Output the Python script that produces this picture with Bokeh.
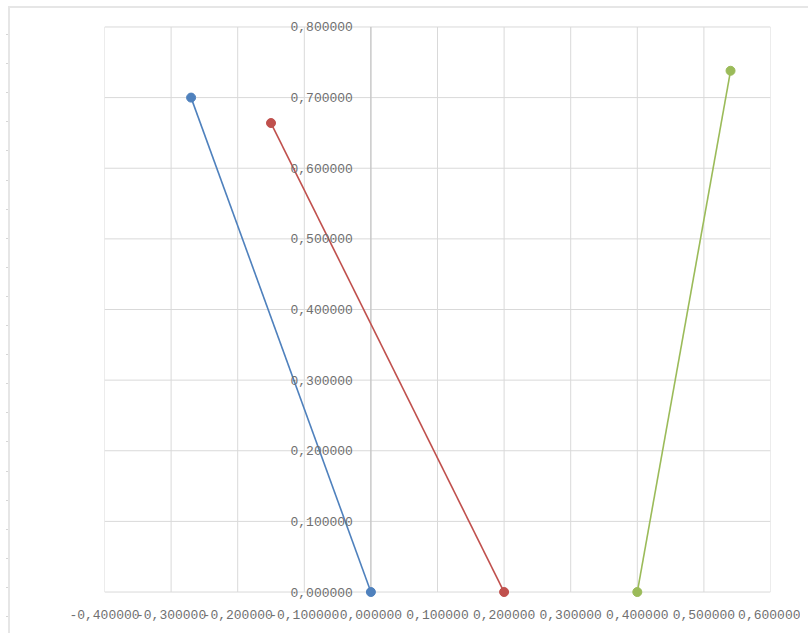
from bokeh.plotting import figure
from bokeh.models import FixedTicker, CustomJSTickFormatter, Range1d, InlineStyleSheet
from bokeh.embed import file_html
from bokeh.resources import INLINE

# Series data (x, y)
blue_x = [-0.27, 0.0]
blue_y = [0.70, 0.0]
red_x = [-0.15, 0.20]
red_y = [0.664, 0.0]
green_x = [0.40, 0.54]
green_y = [0.0, 0.738]

x_ticks = [-0.4, -0.3, -0.2, -0.1, 0.0, 0.1, 0.2, 0.3, 0.4, 0.5, 0.6]
y_ticks = [0.0, 0.1, 0.2, 0.3, 0.4, 0.5, 0.6, 0.7, 0.8]

colors = ["#4f81bd", "#c0504d", "#9bbb59"]
grid_color = "#d9d9d9"
label_color = "#707070"

x_min, x_max = x_ticks[0], x_ticks[-1]
y_min, y_max = y_ticks[0], y_ticks[-1]
pad = 0.012  # a little room so markers/labels at the edges are not clipped

p = figure(frame_width=666, frame_height=582, output_backend="svg", toolbar_location=None,
           x_range=Range1d(x_min, x_max), y_range=Range1d(y_min - pad, y_max + pad),
           min_border_left=104, min_border_right=30, min_border_top=18, min_border_bottom=28)

p.outline_line_color = None
p.xgrid.visible = False
p.ygrid.visible = False

fmt = CustomJSTickFormatter(code="return tick.toFixed(6).replace('.', ',');")

p.xaxis.ticker = FixedTicker(ticks=x_ticks)
p.yaxis.ticker = FixedTicker(ticks=y_ticks)
for ax in (p.xaxis[0], p.yaxis[0]):
    ax.formatter = fmt
    ax.axis_line_color = None
    ax.major_tick_line_color = None
    ax.minor_tick_line_color = None
    ax.major_tick_out = 0
    ax.major_tick_in = 0
    ax.minor_tick_out = 0
    ax.major_label_text_font = "Liberation Mono"
    ax.major_label_text_font_size = "13px"
    ax.major_label_text_color = label_color

p.xaxis.major_label_standoff = 9
p.yaxis.fixed_location = 0
p.yaxis.major_label_standoff = 18

# gridlines (plot area spans exactly the tick range)
p.segment(x0=x_ticks, y0=[y_min] * len(x_ticks), x1=x_ticks, y1=[y_max] * len(x_ticks),
          line_color=grid_color, line_width=1)
p.segment(x0=[x_min] * len(y_ticks), y0=y_ticks, x1=[x_max] * len(y_ticks), y1=y_ticks,
          line_color=grid_color, line_width=1)
# vertical value axis crossing at x = 0
p.segment(x0=[0], y0=[y_min], x1=[0], y1=[y_max], line_color="#bfbfbf", line_width=1)

for xs, ys, c in ((blue_x, blue_y, colors[0]), (red_x, red_y, colors[1]), (green_x, green_y, colors[2])):
    p.line(xs, ys, line_color=c, line_width=1.6)
    p.scatter(xs, ys, size=9, fill_color=c, line_color=c)

# faint outer chart-area border (top edge, and left edge with small ticks)
p.stylesheets = [InlineStyleSheet(css="""
:host { position: relative; }
:host::after { content: ''; position: absolute; left: 6px; top: 6px; width: 4px; height: 640px;
  background:
    linear-gradient(#e6e6e6, #e6e6e6) right top / 2px 100% no-repeat,
    repeating-linear-gradient(to bottom, transparent 0px, transparent 28px, #d6d6d6 28px, #d6d6d6 29.1px) left top / 2px 100% no-repeat;
  z-index: 10; pointer-events: none; }
:host::before { content: ''; position: absolute; left: 8px; top: 6px; width: 800px; height: 2px;
  background: #e6e6e6; z-index: 10; pointer-events: none; }
""")]

open("out.html", "w").write(file_html(p, INLINE))
